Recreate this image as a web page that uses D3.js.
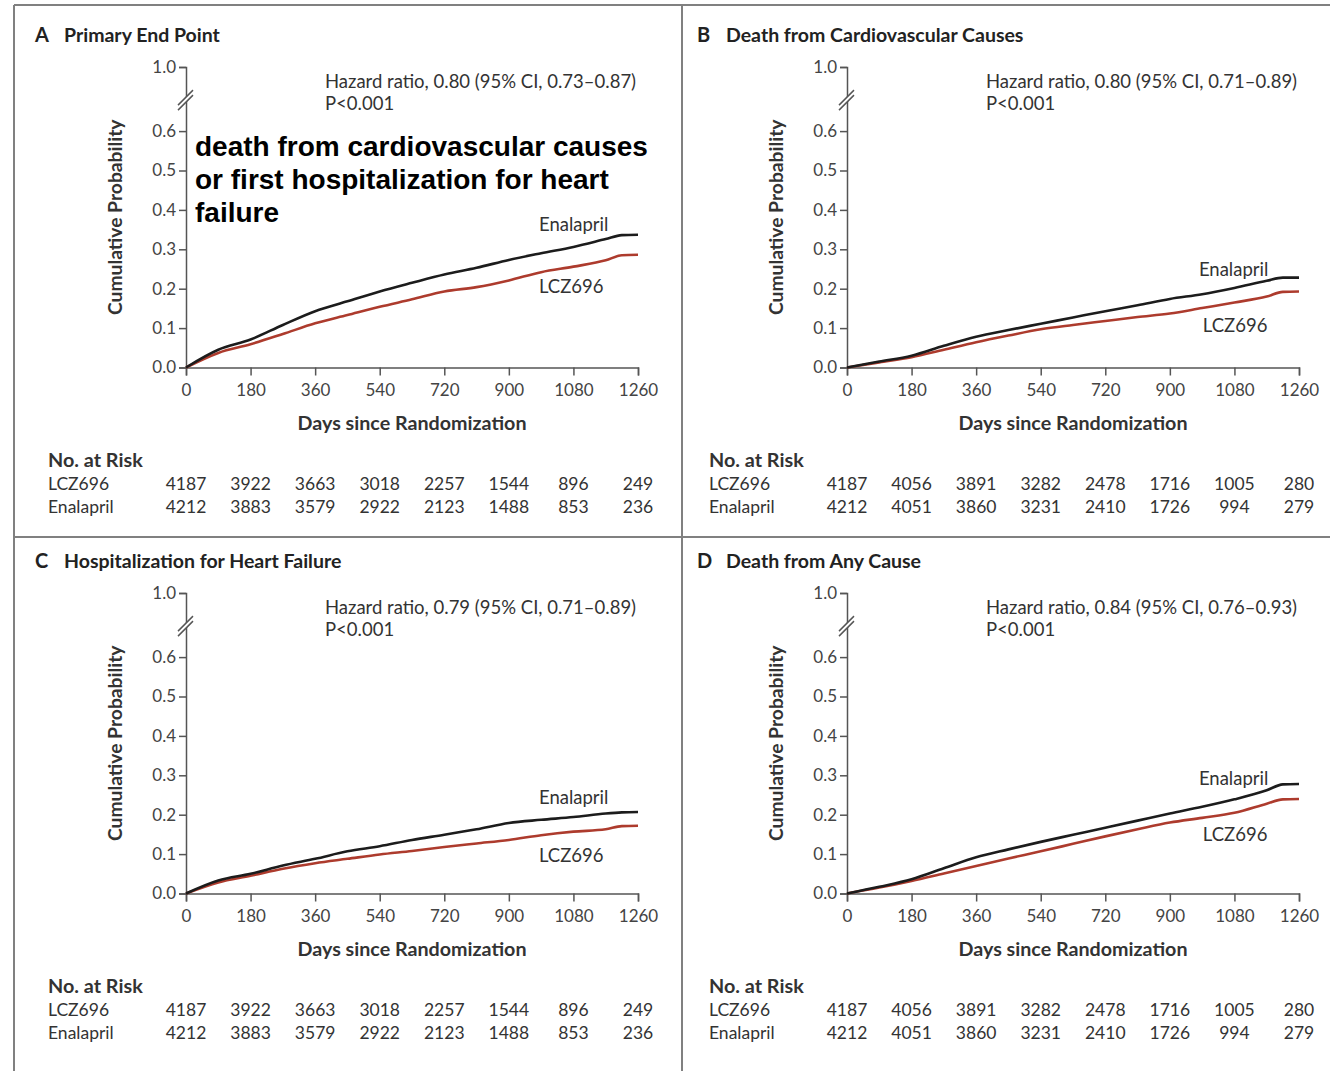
<!DOCTYPE html>
<html>
<head>
<meta charset="utf-8">
<script src="https://cdn.jsdelivr.net/npm/d3@7"></script>
<style>
  html, body { margin: 0; padding: 0; background: #fff; }
  svg { display: block; }
</style>
</head>
<body>
<svg id="chart" width="1330" height="1071"></svg>
<script>
// Kaplan–Meier style cumulative incidence, four end points, LCZ696 vs Enalapril
const days = [0, 90, 180, 270, 360, 450, 540, 630, 720, 810, 900, 990, 1080, 1170, 1215, 1260];

const primaryEnalapril = [0, .045, .071, .108, .143, .168, .193, .215, .236, .253, .273, .290, .306, .326, .336, .337];
const primaryLCZ696    = [0, .037, .059, .085, .112, .133, .154, .173, .193, .204, .221, .242, .256, .272, .285, .286];

const cvDeathEnalapril = [0, .015, .030, .055, .078, .095, .111, .127, .143, .158, .174, .186, .202, .220, .228, .228];
const cvDeathLCZ696    = [0, .013, .026, .045, .064, .081, .097, .108, .118, .128, .137, .151, .165, .180, .192, .193];

const hfHospEnalapril  = [0, .033, .050, .071, .088, .107, .120, .136, .149, .163, .179, .187, .194, .203, .206, .207];
const hfHospLCZ696     = [0, .028, .045, .063, .077, .088, .099, .108, .118, .127, .136, .148, .157, .163, .171, .172];

const anyDeathEnalapril = [0, .017, .036, .064, .092, .112, .131, .149, .167, .185, .203, .220, .239, .262, .277, .278];
const anyDeathLCZ696    = [0, .015, .032, .051, .070, .089, .107, .126, .145, .163, .180, .192, .205, .228, .239, .240];

const xTicks = [0, 180, 360, 540, 720, 900, 1080, 1260];
const yTicks = [0, 0.1, 0.2, 0.3, 0.4, 0.5, 0.6, 1.0];

const riskLCZ696_AC    = [4187, 3922, 3663, 3018, 2257, 1544, 896, 249];
const riskEnalapril_AC = [4212, 3883, 3579, 2922, 2123, 1488, 853, 236];
const riskLCZ696_BD    = [4187, 4056, 3891, 3282, 2478, 1716, 1005, 280];
const riskEnalapril_BD = [4212, 4051, 3860, 3231, 2410, 1726, 994, 279];

const panels = [
  { letter: "A", title: "Primary End Point", hr: "Hazard ratio, 0.80 (95% CI, 0.73\u20130.87)",
    enal: primaryEnalapril, lcz: primaryLCZ696, riskL: riskLCZ696_AC, riskE: riskEnalapril_AC,
    col: 0, row: 0, enalLabel: [984, 0.346], lczLabel: [984, 0.189],
    note: ["death from cardiovascular causes", "or first hospitalization for heart", "failure"] },
  { letter: "B", title: "Death from Cardiovascular Causes", hr: "Hazard ratio, 0.80 (95% CI, 0.71\u20130.89)",
    enal: cvDeathEnalapril, lcz: cvDeathLCZ696, riskL: riskLCZ696_BD, riskE: riskEnalapril_BD,
    col: 1, row: 0, enalLabel: [981, 0.233], lczLabel: [992, 0.091] },
  { letter: "C", title: "Hospitalization for Heart Failure", hr: "Hazard ratio, 0.79 (95% CI, 0.71\u20130.89)",
    enal: hfHospEnalapril, lcz: hfHospLCZ696, riskL: riskLCZ696_AC, riskE: riskEnalapril_AC,
    col: 0, row: 1, enalLabel: [984, 0.228], lczLabel: [984, 0.081] },
  { letter: "D", title: "Death from Any Cause", hr: "Hazard ratio, 0.84 (95% CI, 0.76\u20130.93)",
    enal: anyDeathEnalapril, lcz: anyDeathLCZ696, riskL: riskLCZ696_BD, riskE: riskEnalapril_BD,
    col: 1, row: 1, enalLabel: [981, 0.275], lczLabel: [992, 0.133] }
];

const svg = d3.select("#chart");
svg.append("rect").attr("width", 1330).attr("height", 1071).attr("fill", "#fff");

const colEnal = "#1c1c1c";
const colLCZ = "#ad3b2d";
const axisCol = "#555";
const textCol = "#333";
const font = "Lato, 'Open Sans', sans-serif";

const panelW = 661, panelH = 526;

panels.forEach(p => {
  const ox = 186 + p.col * panelW;      // plot left
  const oy = 367.5 + p.row * panelH;    // zero line
  const g = svg.append("g");

  const x = d3.scaleLinear().domain([0, 1260]).range([ox, ox + 452]);
  const y = d3.scaleLinear().domain([0, 0.6, 1.0]).range([oy, oy - 236.4, oy - 300.5]);

  // panel heading
  const tx = 35 + p.col * 662, ty = 42 + p.row * panelH;
  g.append("text").attr("x", tx).attr("y", ty)
    .attr("font-family", font).attr("font-size", 20).attr("font-weight", 700).attr("fill", "#222")
    .text(p.letter);
  g.append("text").attr("x", tx + 29).attr("y", ty)
    .attr("font-family", font).attr("font-size", 19.5).attr("font-weight", 700).attr("fill", "#222")
    .text(p.title);

  // y axis
  const yAxis = d3.axisLeft(y).tickValues(yTicks).tickSize(7).tickPadding(3).tickFormat(d3.format(".1f"));
  const ya = g.append("g").attr("transform", `translate(${ox},0)`).call(yAxis);
  // x axis
  const xAxis = d3.axisBottom(x).tickValues(xTicks).tickSize(8).tickPadding(4).tickFormat(d3.format("d"));
  const xa = g.append("g").attr("transform", `translate(0,${oy})`).call(xAxis);
  [ya, xa].forEach(a => {
    a.select(".domain").attr("stroke", axisCol).attr("stroke-width", 1.5);
    a.selectAll(".tick line").attr("stroke", axisCol).attr("stroke-width", 1.5);
    a.selectAll(".tick text").attr("font-family", font).attr("font-size", 17).attr("fill", "#444");
  });
  xa.selectAll(".tick text").attr("dy", "0.95em");

  // axis break between 0.6 and 1.0
  const yb = y(0.6) - 33;
  g.append("polygon")
    .attr("points", `${ox - 8},${yb + 7} ${ox + 7},${yb - 8} ${ox + 7},${yb - 3} ${ox - 8},${yb + 12}`)
    .attr("fill", "#fff");
  [0, 5].forEach(d => {
    g.append("line").attr("x1", ox - 8).attr("y1", yb + 7 + d).attr("x2", ox + 7).attr("y2", yb - 8 + d)
      .attr("stroke", axisCol).attr("stroke-width", 1.5);
  });

  // y axis title
  g.append("text")
    .attr("transform", `translate(${ox - 64},${y(0.3) - 32}) rotate(-90)`)
    .attr("text-anchor", "middle")
    .attr("font-family", font).attr("font-size", 19.3).attr("font-weight", 700).attr("fill", "#333")
    .text("Cumulative Probability");

  // x axis title
  g.append("text").attr("x", ox + 226).attr("y", oy + 62)
    .attr("text-anchor", "middle")
    .attr("font-family", font).attr("font-size", 19.7).attr("font-weight", 700).attr("fill", "#333")
    .text("Days since Randomization");

  // hazard ratio
  g.append("text").attr("x", ox + 139).attr("y", 88 + p.row * panelH)
    .attr("font-family", font).attr("font-size", 18.5).attr("fill", textCol).text(p.hr);
  g.append("text").attr("x", ox + 139).attr("y", 110 + p.row * panelH)
    .attr("font-family", font).attr("font-size", 18.5).attr("fill", textCol).text("P<0.001");

  // curves
  const line = d3.line().x((d, i) => x(days[i])).y(d => y(d)).curve(d3.curveMonotoneX);
  g.append("path").datum(p.lcz).attr("d", line)
    .attr("fill", "none").attr("stroke", colLCZ).attr("stroke-width", 2.6);
  g.append("path").datum(p.enal).attr("d", line)
    .attr("fill", "none").attr("stroke", colEnal).attr("stroke-width", 2.6);

  // curve labels
  g.append("text").attr("x", x(p.enalLabel[0])).attr("y", y(p.enalLabel[1]))
    .attr("font-family", font).attr("font-size", 18.5).attr("fill", textCol).text("Enalapril");
  g.append("text").attr("x", x(p.lczLabel[0])).attr("y", y(p.lczLabel[1]))
    .attr("font-family", font).attr("font-size", 18.5).attr("fill", textCol).text("LCZ696");

  // number at risk
  const rx = 48 + p.col * panelW;
  g.append("text").attr("x", rx).attr("y", oy + 99)
    .attr("font-family", font).attr("font-size", 19.8).attr("font-weight", 700).attr("fill", "#333")
    .text("No. at Risk");
  [["LCZ696", p.riskL, 122], ["Enalapril", p.riskE, 145]].forEach(([name, vals, dy]) => {
    g.append("text").attr("x", rx).attr("y", oy + dy)
      .attr("font-family", font).attr("font-size", 17.5).attr("fill", textCol).text(name);
    g.selectAll(null).data(vals).enter().append("text")
      .attr("x", (d, i) => x(xTicks[i])).attr("y", oy + dy)
      .attr("text-anchor", "middle")
      .attr("font-family", font).attr("font-size", 17.5).attr("fill", textCol)
      .text(d => d);
  });

  // end point description
  if (p.note) {
    const nt = g.append("text").attr("font-family", "'Liberation Sans', Arial, sans-serif")
      .attr("font-size", 28).attr("font-weight", 700).attr("fill", "#000");
    p.note.forEach((s, i) => nt.append("tspan").attr("x", ox + 9).attr("y", 156 + i * 33).text(s));
  }
});

// panel frames
const frame = [
  [14, 5, 1330, 5], [14, 5, 14, 1071], [682, 5, 682, 1071], [14, 537, 1330, 537]
];
svg.selectAll("line.frame").data(frame).enter().append("line").attr("class", "frame")
  .attr("x1", d => d[0]).attr("y1", d => d[1]).attr("x2", d => d[2]).attr("y2", d => d[3])
  .attr("stroke", "#808080").attr("stroke-width", 2);
</script>
</body>
</html>
